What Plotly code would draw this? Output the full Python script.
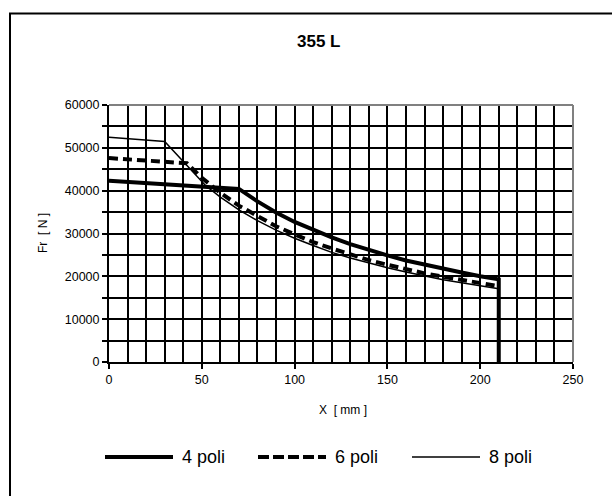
import plotly.graph_objects as go

# Data
x4 = [0, 70, 80, 90, 100, 110, 120, 130, 140, 150, 160, 170, 180, 190, 200, 210, 210]
y4 = [42300, 40400, 37500, 34900, 32700, 30800, 29100, 27500, 26100, 24900, 23700, 22700, 21700, 20900, 20000, 19300, 0]

x6 = [0, 42, 50, 60, 70, 80, 90, 100, 110, 120, 130, 140, 150, 160, 170, 180, 190, 200, 210]
y6 = [47600, 46400, 43000, 39500, 36500, 34000, 31700, 29800, 28000, 26500, 25100, 23800, 22700, 21600, 20700, 19900, 19100, 18400, 17700]

x8 = [0, 30, 52, 60, 70, 80, 90, 100, 110, 120, 130, 140, 150, 160, 170, 180, 190, 200, 210]
y8 = [52500, 51500, 41200, 38500, 35500, 33000, 30800, 28900, 27200, 25600, 24300, 23100, 22000, 21000, 20100, 19200, 18500, 17800, 17100]

names = ["4 poli", "6 poli", "8 poli"]
title_text = "355 L"
x_title = "X  [ mm ]"
y_title = "Fr  [ N ]"

styles = [dict(width=4, dash="solid"), dict(width=4, dash="9px,5px"), dict(width=1.5, dash="solid")]
series = [(x4, y4), (x6, y6), (x8, y8)]

FONT = "Liberation Sans, Arial, sans-serif"
fig = go.Figure()
for (xs, ys), nm, st in zip(series, names, styles):
    fig.add_trace(go.Scatter(x=xs, y=ys, mode="lines", name=nm, showlegend=False,
                             line=dict(color="black", width=st["width"], dash=st["dash"])))

# geometry of plot area in pixels
L, R, T, B = 109, 573, 105, 362
W, H = 612, 496
pw, ph = R - L, B - T

def px2paper(px, py):
    return (px - L) / pw, (B - py) / ph

# outer border (left and top visible)
x0, y0 = px2paper(10, 13.5)
x1, y1 = px2paper(640, 520)
shapes = [dict(type="rect", xref="paper", yref="paper", x0=x0, y0=y1, x1=x1, y1=y0,
               line=dict(color="black", width=2), layer="below")]
# gray top/right border of the plot
shapes.append(dict(type="line", xref="paper", yref="paper", x0=0, x1=1, y0=1, y1=1,
                   line=dict(color="#808080", width=2)))
shapes.append(dict(type="line", xref="paper", yref="paper", x0=1, x1=1, y0=0, y1=1,
                   line=dict(color="#808080", width=2)))

# custom legend
leg_y = px2paper(0, 457)[1]
leg_starts = [105, 258, 412]
annotations = []
for nm, st, sx in zip(names, styles, leg_starts):
    a0, _ = px2paper(sx, 0)
    a1, _ = px2paper(sx + 68, 0)
    shapes.append(dict(type="line", xref="paper", yref="paper", x0=a0, x1=a1, y0=leg_y, y1=leg_y,
                       line=dict(color="black", width=st["width"], dash="11px,4px" if st["dash"] != "solid" else "solid")))
    tx, _ = px2paper(sx + 75, 0)
    annotations.append(dict(text=nm, xref="paper", yref="paper", x=tx, y=leg_y, xanchor="left",
                            yanchor="middle", showarrow=False,
                            font=dict(family=FONT, size=18, color="black")))

tx, ty = px2paper(318, 41)
annotations.append(dict(text="<b>%s</b>" % title_text, xref="paper", yref="paper", x=tx, y=ty,
                        xanchor="center", yanchor="middle", showarrow=False,
                        font=dict(family=FONT, size=17, color="black")))
tx, ty = px2paper(343, 410)
annotations.append(dict(text=x_title, xref="paper", yref="paper", x=tx, y=ty,
                        xanchor="center", yanchor="middle", showarrow=False,
                        font=dict(family=FONT, size=12, color="black")))
tx, ty = px2paper(43, 233)
annotations.append(dict(text=y_title, xref="paper", yref="paper", x=tx, y=ty, textangle=-90,
                        xanchor="center", yanchor="middle", showarrow=False,
                        font=dict(family=FONT, size=12, color="black")))

fig.update_layout(
    width=W, height=H,
    margin=dict(l=L, r=W - R, t=T, b=H - B),
    paper_bgcolor="white", plot_bgcolor="white",
    font=dict(family=FONT, size=12, color="black"),
    shapes=shapes, annotations=annotations,
    xaxis=dict(range=[0, 250], dtick=50, tick0=0, ticks="outside", ticklen=5, tickwidth=1.5,
               tickcolor="black", showline=True, linecolor="black", linewidth=2,
               showgrid=True, gridcolor="black", gridwidth=2, zeroline=False,
               minor=dict(dtick=10, showgrid=True, gridcolor="black", gridwidth=2, ticks=""),
               tickfont=dict(size=12.5)),
    yaxis=dict(range=[0, 60000], dtick=10000, tick0=0, ticks="outside", ticklen=5, tickwidth=1.5,
               tickcolor="black", showline=True, linecolor="black", linewidth=2,
               showgrid=True, gridcolor="black", gridwidth=2, zeroline=False,
               minor=dict(dtick=5000, showgrid=True, gridcolor="black", gridwidth=2,
                          ticks="outside", ticklen=5, tickcolor="black", tickwidth=1.5),
               tickfont=dict(size=12.5), tickformat="d"),
)

fig.write_html("out.html")
